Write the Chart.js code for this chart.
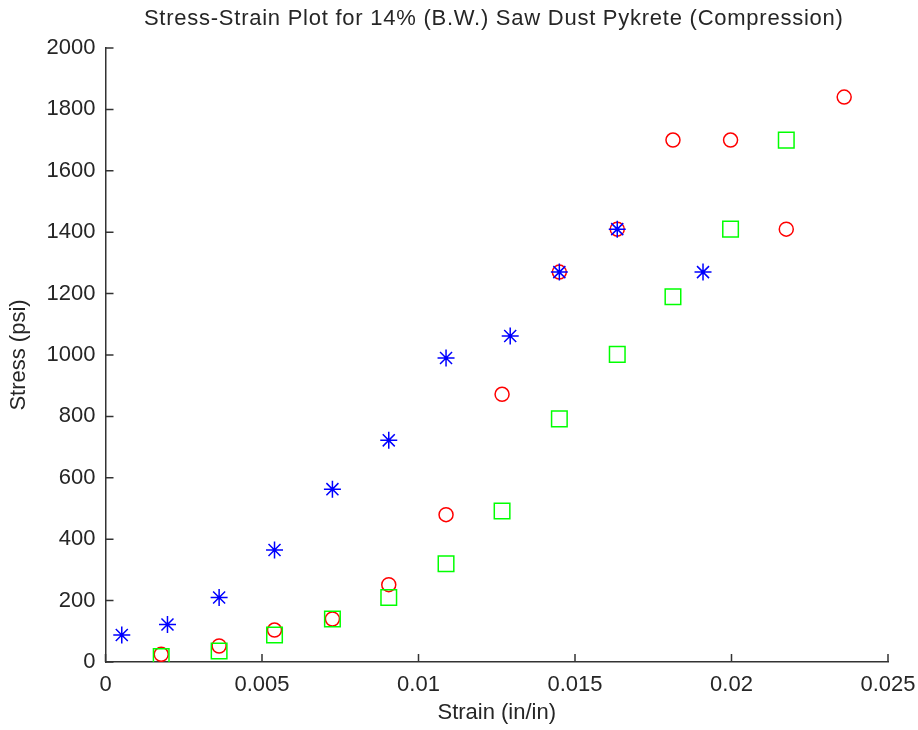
<!DOCTYPE html>
<html lang="en">
<head>
<meta charset="UTF-8">
<title>Stress-Strain Plot</title>
<script src="https://cdn.jsdelivr.net/npm/chart.js"></script>
<style>
  html, body { margin: 0; padding: 0; background: #fff; }
  #wrap { width: 918px; height: 730px; }
</style>
</head>
<body>
<div id="wrap"><canvas id="grafico"></canvas></div>
<script>
// valores (strain in/in, stress psi)
const blueX = [0.00052, 0.00198, 0.00363, 0.0054, 0.00725, 0.00905, 0.01088, 0.01293, 0.0145, 0.01635, 0.01909];
const blueY = [88, 122, 210, 365, 563, 722, 990, 1062, 1270, 1410, 1270];

const redX = [0.00178, 0.00363, 0.0054, 0.00725, 0.00905, 0.01088, 0.01267, 0.0145, 0.01635, 0.01813, 0.01997, 0.02175, 0.0236];
const redY = [25, 52, 104, 140, 252, 480, 872, 1270, 1410, 1700, 1700, 1410, 1840];

const greenX = [0.00178, 0.00363, 0.0054, 0.00725, 0.00905, 0.01088, 0.01267, 0.0145, 0.01635, 0.01813, 0.01997, 0.02175];
const greenY = [18, 36, 88, 140, 210, 320, 492, 792, 1002, 1190, 1410, 1700];

const xTicks = [0, 0.005, 0.01, 0.015, 0.02, 0.025];
const yTicks = [0, 200, 400, 600, 800, 1000, 1200, 1400, 1600, 1800, 2000];

const titulo = 'Stress-Strain Plot for 14% (B.W.) Saw Dust Pykrete (Compression)';

const fonte = 'Liberation Sans, Arial, sans-serif';
const corTexto = '#262626';
const corEixo = '#333333';

function pontos(xs, ys) {
  return xs.map((x, i) => ({ x: x, y: ys[i] }));
}

// marcas de tick para dentro, como no matlab
const ticksDentro = {
  id: 'ticksDentro',
  afterDraw(chart) {
    const ctx = chart.ctx;
    const area = chart.chartArea;
    const sx = chart.scales.x;
    const sy = chart.scales.y;
    ctx.save();
    ctx.strokeStyle = corEixo;
    ctx.lineWidth = 1.5;
    ctx.beginPath();
    xTicks.forEach(v => {
      const px = sx.getPixelForValue(v);
      ctx.moveTo(px, area.bottom);
      ctx.lineTo(px, area.bottom - 8);
    });
    yTicks.forEach(v => {
      const py = sy.getPixelForValue(v);
      ctx.moveTo(area.left, py);
      ctx.lineTo(area.left + 8, py);
    });
    ctx.stroke();

    // titulo centrado sobre a area do grafico
    ctx.fillStyle = corTexto;
    ctx.font = '22px ' + fonte;
    ctx.textAlign = 'center';
    ctx.textBaseline = 'middle';
    ctx.letterSpacing = '0.75px';
    ctx.fillText(titulo, (area.left + area.right) / 2 - 3, 19);
    ctx.restore();
  }
};

const dados = {
  datasets: [
    {
      label: 'serie 1',
      data: pontos(blueX, blueY),
      pointStyle: 'star',
      pointRadius: 8.5,
      borderColor: '#0000ff',
      backgroundColor: '#0000ff',
      borderWidth: 1.5,
      showLine: false
    },
    {
      label: 'serie 3',
      data: pontos(greenX, greenY),
      pointStyle: 'rect',
      pointRadius: 11,
      borderColor: '#00ff00',
      backgroundColor: 'rgba(0,0,0,0)',
      borderWidth: 1.5,
      showLine: false
    },
    {
      label: 'serie 2',
      data: pontos(redX, redY),
      pointStyle: 'circle',
      pointRadius: 7,
      borderColor: '#ff0000',
      backgroundColor: 'rgba(0,0,0,0)',
      borderWidth: 1.5,
      showLine: false
    }
  ]
};

const config = {
  type: 'scatter',
  data: dados,
  options: {
    responsive: true,
    maintainAspectRatio: false,
    animation: false,
    events: [],
    layout: { padding: { left: 0, right: 30, top: 48, bottom: 0 } },
    plugins: {
      legend: { display: false },
      tooltip: { enabled: false },
      title: { display: false }
    },
    scales: {
      x: {
        type: 'linear',
        min: 0,
        max: 0.025,
        afterBuildTicks(scale) {
          scale.ticks = xTicks.map(v => ({ value: v }));
        },
        afterFit(scale) {
          scale.height = 68;
          scale.paddingLeft = 0;
          scale.paddingRight = 0;
        },
        ticks: {
          autoSkip: false,
          maxRotation: 0,
          padding: 10,
          color: corTexto,
          font: { family: fonte, size: 22 },
          callback: v => String(Number(v.toFixed(3)))
        },
        grid: { drawOnChartArea: false, drawTicks: false },
        border: { display: true, color: corEixo, width: 1.5 },
        title: {
          display: true,
          text: 'Strain (in/in)',
          color: corTexto,
          font: { family: fonte, size: 22, lineHeight: 1.2 },
          padding: { top: 0, bottom: 4 }
        }
      },
      y: {
        type: 'linear',
        min: 0,
        max: 2000,
        afterBuildTicks(scale) {
          scale.ticks = yTicks.map(v => ({ value: v }));
        },
        afterFit(scale) {
          scale.width = 105.5;
          scale.paddingTop = 0;
          scale.paddingBottom = 0;
        },
        ticks: {
          autoSkip: false,
          padding: 10,
          color: corTexto,
          font: { family: fonte, size: 22 },
          callback: v => String(v)
        },
        grid: { drawOnChartArea: false, drawTicks: false },
        border: { display: true, color: corEixo, width: 1.5 },
        title: {
          display: true,
          text: 'Stress (psi)',
          color: corTexto,
          font: { family: fonte, size: 22, lineHeight: 1.2 },
          padding: { top: 6, bottom: 0 }
        }
      }
    }
  },
  plugins: [ticksDentro]
};

new Chart(document.getElementById('grafico'), config);
</script>
</body>
</html>
